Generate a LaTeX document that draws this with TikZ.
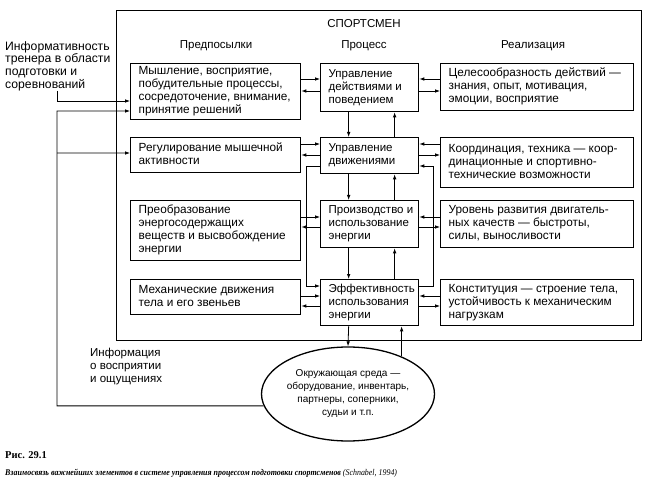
\documentclass[tikz,border=0pt]{standalone}
\usepackage{fontspec}
\setmainfont{Liberation Sans}
\newfontfamily\capserif{Liberation Serif}
\newfontfamily\capnarrow{Liberation Serif}[FakeStretch=0.9]
\usetikzlibrary{arrows.meta,shapes.geometric}
\newcommand\boxtxt[2]{\makebox[#1][l]{\hspace{8bp}\begin{tabular}{@{}l@{}}#2\end{tabular}}}
\begin{document}
\begin{tikzpicture}[x=1bp,y=-1bp,
  every node/.style={inner sep=0pt},
  bx/.style={draw,line width=1.3bp,anchor=north west,inner sep=0pt,font=\fontsize{11.8bp}{13bp}\selectfont},
  mbx/.style={bx,font=\fontsize{11.5bp}{13bp}\selectfont},
  arr/.style={line width=0.8bp,-{Latex[length=5bp,width=3.6bp]}},
  txt/.style={font=\fontsize{11.5bp}{12.8bp}\selectfont,align=left}]
\useasboundingbox[fill=white] (0,0) rectangle (648,494);
% frame
\node[draw,line width=1.3bp,anchor=north west,minimum width=525bp,minimum height=330bp] (frame) at (116,10) {};
\node[txt] (title) at (364,24) {СПОРТСМЕН};
\node[txt] (h1) at (216,46) {Предпосылки};
\node[txt] (h2) at (364,46) {Процесс};
\node[txt] (h3) at (533,46) {Реализация};
% row 1
\node[bx,minimum width=170bp,minimum height=56bp] (L1) at (130,63) {\boxtxt{170bp}{Мышление, восприятие,\\побудительные процессы,\\сосредоточение, внимание,\\принятие решений}};
\node[mbx,minimum width=98bp,minimum height=48bp] (M1) at (320,63) {\boxtxt{98bp}{Управление\\действиями и\\поведением}};
\node[bx,minimum width=193bp,minimum height=47bp] (R1) at (440,63) {\boxtxt{193bp}{Целесообразность действий —\\знания, опыт, мотивация,\\эмоции, восприятие}};
% row 2
\node[bx,minimum width=170bp,minimum height=35bp] (L2) at (130,137) {\boxtxt{170bp}{Регулирование мышечной\\активности}};
\node[mbx,minimum width=98bp,minimum height=36bp] (M2) at (320,137) {\boxtxt{98bp}{Управление\\движениями}};
\node[bx,minimum width=193bp,minimum height=50bp] (R2) at (440,137) {\boxtxt{193bp}{Координация, техника — коор-\\динационные и спортивно-\\технические возможности}};
% row 3
\node[bx,minimum width=170bp,minimum height=60bp] (L3) at (130,200) {\boxtxt{170bp}{Преобразование\\энергосодержащих\\веществ и высвобождение\\энергии}};
\node[mbx,minimum width=98bp,minimum height=47bp] (M3) at (320,200) {\boxtxt{98bp}{Производство и\\использование\\энергии}};
\node[bx,minimum width=193bp,minimum height=47bp] (R3) at (440,200) {\boxtxt{193bp}{Уровень развития двигатель-\\ных качеств — быстроты,\\силы, выносливости}};
% row 4
\node[bx,minimum width=170bp,minimum height=35bp] (L4) at (130,279) {\boxtxt{170bp}{Механические движения\\тела и его звеньев}};
\node[mbx,minimum width=98bp,minimum height=46bp] (M4) at (320,279) {\boxtxt{98bp}{Эффективность\\использования\\энергии}};
\node[bx,minimum width=193bp,minimum height=46bp] (R4) at (440,279) {\boxtxt{193bp}{Конституция — строение тела,\\устойчивость к механическим\\нагрузкам}};
% environment
\node[draw,ellipse,line width=1.3bp,minimum width=128bp,minimum height=94bp,align=center,font=\fontsize{10bp}{13bp}\selectfont] (env) at (348,394) {Окружающая среда —\\оборудование, инвентарь,\\партнеры, соперники,\\судьи и т.п.};
% left texts
\node[txt,anchor=north west,font=\fontsize{12.2bp}{12.8bp}\selectfont] (coach) at (5,41) {Информативность\\тренера в области\\подготовки и\\соревнований};
\node[txt,anchor=north west] (info) at (90,348) {Информация\\о восприятии\\и ощущениях};
% caption
\node[anchor=west,font=\capserif\bfseries\fontsize{10.5bp}{12bp}\selectfont] (fig) at (5,455) {Рис. 29.1};
\node[anchor=west,font=\capnarrow\fontsize{8.8bp}{10bp}\selectfont] (cap) at (5,473) {\textbf{\itshape Взаимосвязь важнейших элементов в системе управления процессом подготовки спортсменов} \textit{(Schnabel, 1994)}};
% horizontal arrows row 1
\draw[arr] ([yshift=-16bp]L1.north east) -- ([yshift=-16bp]M1.north west);
\draw[arr] ([yshift=-28bp]M1.north west) -- ([yshift=-28bp]L1.north east);
\draw[arr] ([yshift=-16bp]R1.north west) -- ([yshift=-16bp]M1.north east);
\draw[arr] ([yshift=-28bp]M1.north east) -- ([yshift=-28bp]R1.north west);
% row 2
\draw[arr] ([yshift=-7bp]L2.north east) -- ([yshift=-7bp]M2.north west);
\draw[arr] ([yshift=-18bp]M2.north west) -- ([yshift=-18bp]L2.north east);
\draw[arr] ([yshift=-7bp]R2.north west) -- ([yshift=-7bp]M2.north east);
\draw[arr] ([yshift=-18bp]M2.north east) -- ([yshift=-18bp]R2.north west);
% row 3
\draw[arr] ([yshift=-17bp]L3.north east) -- ([yshift=-17bp]M3.north west);
\draw[arr] ([yshift=-27bp]M3.north west) -- ([yshift=-27bp]L3.north east);
\draw[arr] ([yshift=-17bp]R3.north west) -- ([yshift=-17bp]M3.north east);
\draw[arr] ([yshift=-27bp]M3.north east) -- ([yshift=-27bp]R3.north west);
% row 4
\draw[arr] ([yshift=-17bp]L4.north east) -- ([yshift=-17bp]M4.north west);
\draw[arr] ([yshift=-27bp]M4.north west) -- ([yshift=-27bp]L4.north east);
\draw[arr] ([yshift=-17bp]R4.north west) -- ([yshift=-17bp]M4.north east);
\draw[arr] ([yshift=-27bp]M4.north east) -- ([yshift=-27bp]R4.north west);
% vertical arrows
\draw[arr] ([xshift=-21bp]M1.south) -- ([xshift=-21bp]M2.north);
\draw[arr] ([xshift=25bp]M2.north) -- ([xshift=25bp]M1.south);
\draw[arr] ([xshift=-21bp]M2.south) -- ([xshift=-21bp]M3.north);
\draw[arr] ([xshift=25bp]M3.north) -- ([xshift=25bp]M2.south);
\draw[arr] ([xshift=-21bp]M3.south) -- ([xshift=-21bp]M4.north);
\draw[arr] ([xshift=25bp]M4.north) -- ([xshift=25bp]M3.south);
\draw[arr] ([xshift=-21bp]M4.south) -- (env.north);
\draw[arr] (env.35) -- (env.35 |- M4.south);
% feedback loops
\draw[arr] ([yshift=-29bp]M2.north west) -- ++(-14,0) |- ([yshift=-7bp]M4.north west);
\draw[arr] ([yshift=-7bp]M4.north east) -- ++(14,0) |- ([yshift=-29bp]M2.north east);
% outer left lines
\coordinate (c1) at (57,91);
\coordinate (lp) at (57,111);
\coordinate (lb) at (57,153);
\draw[arr] (c1) |- ([yshift=-38bp]L1.north west);
\draw[arr] (env.188) -| (lp) -- ([yshift=-48bp]L1.north west);
\draw[arr] (lb) -- ([yshift=-16bp]L2.north west);
\end{tikzpicture}
\end{document}
